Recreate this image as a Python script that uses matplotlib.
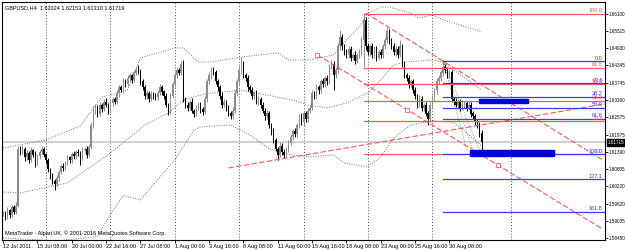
import numpy as np
import matplotlib
matplotlib.use("Agg")
import matplotlib.pyplot as plt
import matplotlib.transforms as mtransforms
from matplotlib.patches import Rectangle

plt.rcParams["font.family"] = ["Liberation Sans", "DejaVu Sans"]

# H4 bars, bar index 0 = Mon 18 Jul 2011 00:00, first visible bar is index -20
first_bar = -20
close_pips = [
    15930, 15915, 15940, 15925, 15950, 15935, 15955,
    16150,
    16140, 16150, 16120, 16135, 16110, 16145, 16130, 16100, 16125, 16140, 16150, 16130,
    16110, 16080, 16060, 16040, 16030, 16050,
    16070, 16090, 16085, 16100, 16120, 16110, 16130, 16125, 16140, 16135, 16120, 16145, 16150, 16130, 16155,
    16231, 16280,
    16290, 16270, 16300, 16285, 16310, 16300, 16280, 16305, 16320, 16310, 16340, 16360, 16350, 16380,
    16370, 16390, 16400, 16385, 16410, 16420, 16415, 16380, 16360,
    16330, 16340, 16320, 16335, 16330, 16325, 16340,
    16360, 16345, 16330, 16300, 16275,
    16330, 16370, 16400, 16420, 16410, 16440,
    16320,
    16300, 16290, 16310, 16280, 16270, 16290, 16300, 16285, 16275,
    16320, 16380, 16400, 16420, 16410,
    16380, 16360, 16330, 16300, 16310, 16290, 16270, 16260, 16280,
    16340, 16380, 16420, 16440, 16400, 16390, 16360,
    16350, 16330, 16340, 16310, 16320, 16300,
    16280, 16260, 16270, 16230, 16210, 16180, 16150, 16130,
    16160, 16140, 16130, 16150, 16170,
    16190, 16210, 16200, 16230,
    16260, 16240, 16270, 16250, 16280, 16290,
    16340, 16330, 16360, 16350, 16380, 16370, 16390, 16380,
    16430, 16440, 16400,
    16420, 16500, 16530,
    16500, 16480, 16470, 16490, 16460, 16470, 16450, 16470,
    16480, 16520, 16590, 16500,
    16480, 16500, 16470, 16490, 16460, 16480, 16470, 16500, 16520,
    16550,
    16520, 16500, 16480, 16490, 16470, 16500,
    16440, 16400, 16390, 16370, 16380, 16350,
    16330, 16300, 16320, 16290, 16300, 16270, 16250,
    16300, 16320, 16350, 16380,
    16390, 16410, 16430, 16420, 16400, 16410,
    16320, 16310,
    16300, 16310, 16290, 16300, 16305, 16290, 16300,
    16270, 16260, 16240, 16230, 16202,
    16172,
]
up_wick = [
    8, 6, 10, 5, 8, 7, 12,
    10,
    8, 12, 6, 10, 7, 9, 5, 12, 8, 6, 10, 7,
    6, 8, 5, 7, 6, 10,
    8, 6, 10, 7, 9, 5, 8, 12, 6, 9, 7, 10, 6, 8, 12,
    10, 15,
    12, 8, 10, 6, 9, 12, 7, 10, 8, 6, 12, 9, 7, 10, 8, 12, 9, 6, 10, 8, 15, 7, 9,
    8, 10, 6, 12, 7, 9, 10,
    12, 8, 6, 9, 7,
    10, 8, 12, 9, 7, 10,
    12,
    8, 10, 7, 12, 6, 9, 8, 10, 7,
    10, 8, 12, 9, 8,
    10, 7, 9, 12, 8, 6, 10, 8, 12,
    10, 8, 12, 23, 9, 7, 10,
    8, 12, 7, 10, 9, 6,
    10, 8, 12, 7, 9, 10, 8, 6,
    12, 8, 10, 7, 9,
    10, 8, 12, 9,
    8, 12, 10, 7, 9, 10,
    12, 8, 10, 9, 7, 12, 8, 10,
    10, 13, 8,
    10, 12, 25,
    10, 8, 12, 9, 10, 7, 12, 8,
    10, 12, 23, 10,
    12, 8, 10, 9, 12, 7, 10, 8, 12,
    16,
    10, 8, 12, 9, 10, 21,
    8, 10, 7, 12, 9, 8,
    10, 8, 12, 9, 7, 10, 8,
    10, 12, 8, 10,
    12, 9, 18, 10, 8, 9,
    10, 8,
    12, 8, 10, 15, 9, 7, 12,
    10, 8, 9, 12, 10,
    13,
]
dn_wick = [
    10, 8, 6, 12, 7, 9, 8,
    5,
    10, 7, 12, 8, 9, 6, 10, 12, 7, 9, 8, 10,
    8, 10, 12, 9, 20, 8,
    10, 8, 12, 9, 7, 10, 8, 12, 9, 10, 25, 8, 10, 12, 9,
    6, 10,
    10, 12, 8, 10, 7, 9, 12, 8, 10, 9, 7, 12, 8, 10, 9, 7, 12, 10, 8, 9, 10, 12, 8,
    12, 9, 10, 8, 12, 10, 9,
    8, 10, 12, 9, 10,
    6, 8, 10, 7, 9, 8,
    10,
    12, 10, 9, 8, 12, 10, 9, 12, 10,
    8, 10, 9, 12, 8,
    10, 12, 9, 10, 8, 12, 10, 9, 8,
    8, 10, 9, 12, 10, 8, 12,
    10, 9, 12, 8, 10, 12,
    9, 12, 10, 8, 12, 10, 9, 19,
    10, 12, 12, 9, 10,
    8, 10, 9, 12,
    10, 9, 12, 8, 10, 9,
    8, 10, 9, 12, 10, 8, 9, 12,
    10, 9, 50,
    8, 10, 12,
    12, 10, 9, 12, 10, 8, 12, 9,
    10, 12, 90, 12,
    10, 12, 9, 10, 12, 8, 10, 12, 9,
    10,
    12, 10, 9, 12, 10, 8,
    12, 10, 9, 12, 10, 9,
    12, 10, 9, 12, 10, 9, 19,
    8, 10, 9, 12,
    10, 9, 12, 10, 8, 10,
    12, 10,
    9, 12, 10, 8, 12, 10, 9,
    12, 10, 9, 10, 12,
    41,
]

# Bollinger bands (bar index, pips)
bb_up_x = [-20, 0, 16, 26, 30, 38, 44, 52, 60, 64, 71, 77, 91, 108, 113, 123, 134, 140, 146, 150, 156, 160, 170, 174, 180, 185, 193, 203]
bb_up_y = [16152, 16180, 16228, 16327, 16333, 16350, 16460, 16477, 16494, 16494, 16446, 16446, 16463, 16477, 16453, 16453, 16470, 16521, 16566, 16613, 16634, 16634, 16613, 16596, 16607, 16590, 16572, 16549]
bb_mid_x = [-20, -12, 10, 30, 46, 57, 64, 72, 77, 91, 103, 115, 122, 131, 140, 150, 156, 162, 168, 180, 185, 203]
bb_mid_y = [16002, 15999, 16033, 16135, 16231, 16272, 16316, 16333, 16340, 16350, 16333, 16316, 16299, 16289, 16306, 16340, 16385, 16436, 16446, 16453, 16446, 16350]
bb_lo_x = [-20, 5, 24, 30, 36, 44, 60, 69, 72, 86, 95, 104, 114, 123, 134, 139, 150, 156, 162, 170, 180, 190, 203]
bb_lo_y = [15845, 15835, 15850, 15925, 15990, 15975, 16112, 16214, 16224, 16231, 16197, 16150, 16129, 16122, 16129, 16101, 16088, 16122, 16186, 16231, 16245, 16240, 16160]

# grey dotted fan from the 25 Aug high towards the last lows (bar, pips)
fan_origin = (185.1, 16453)
fan_ends = [(196.3, 16139), (199.5, 16128), (203.3, 16122)]

# Fibonacci objects
red_fib_levels = [0.0, 23.6, 38.2, 50.0, 61.8, 100.0]
red_fib_hi, red_fib_lo, red_fib_start = 16610, 16131, 148
blue_fib_levels = [0.0, 23.6, 38.2, 50.0, 61.8, 100.0, 127.1, 161.8]
blue_fib_hi, blue_fib_lo, blue_fib_start = 16448, 16131, 185

# red trendlines: (bar, pips) anchor pairs, extended to the right edge
trend_a = [(149, 16613), (259, 16113)]
trend_b = [(126.5, 16470), (259, 15877)]
trend_c = [(85, 16084), (260.5, 16303)]
trend_marks = [(126.5, 16470), (168.4, 16283), (210.7, 16094)]

# blue rectangles: (bar0, bar1, pips_lo, pips_hi)
rects = [(201.9, 224.7, 16306, 16320), (197.7, 236.7, 16125, 16146)]

separators = [0, 30, 60, 90, 120, 150, 180, 216.7]
xtick_pos = [-20, -4, 12, 28, 44, 60, 76, 92, 108, 124, 140, 156, 172, 188]
xtick_lab = ["12 Jul 2011", "15 Jul 08:00", "20 Jul 00:00", "22 Jul 16:00", "27 Jul 08:00",
             "1 Aug 00:00", "3 Aug 16:00", "8 Aug 08:00", "11 Aug 00:00", "15 Aug 16:00",
             "18 Aug 08:00", "23 Aug 00:00", "25 Aug 16:00", "30 Aug 08:00"]
ytick_vals = [1.66100, 1.65515, 1.64930, 1.64345, 1.63745, 1.63160, 1.62575,
              1.61975, 1.61390, 1.60805, 1.60220, 1.59620, 1.59035, 1.58450]
bid = 1.61715
header = "GBPUSD,H4  1.62024 1.62153 1.61310 1.61719"
copyright_txt = "MetaTrader - Alpari UK, \u00a9 2001-2016 MetaQuotes Software Corp."

RED = "#ff5a5a"
BLUE = "#3a3aff"
FS = 4.0
FS_Y = 3.3

# ---------------------------------------------------------------
closes = np.array(close_pips) / 1e4
idx = np.arange(first_bar, first_bar + len(closes))
opens = np.r_[closes[0], closes[:-1]]  # H4 bar opens at previous close
highs = np.maximum(opens, closes) + np.array(up_wick) / 1e4
lows = np.minimum(opens, closes) - np.array(dn_wick) / 1e4

fig = plt.figure(figsize=(6.25, 2.5), dpi=100)
ax = fig.add_axes([2 / 625, 10 / 250, 603 / 625, 238 / 250])
ax.set_xlim(-20.5, 260.5)
ax.set_ylim(1.58380, 1.66510)

for x in separators:
    ax.axvline(x, color="#505050", ls=(0, (1, 2)), lw=0.7, zorder=1)

ax.axhline(bid, color="#c8c8c8", lw=1.2, zorder=1)

# Bollinger bands
for bx, by in [(bb_up_x, bb_up_y), (bb_mid_x, bb_mid_y), (bb_lo_x, bb_lo_y)]:
    ax.plot(bx, np.array(by) / 1e4, color="#707070", ls=(0, (1, 1.5)), lw=0.7, zorder=2)

for ex, ey in fan_ends:
    ax.plot([fan_origin[0], ex], [fan_origin[1] / 1e4, ey / 1e4], color="#808080",
            ls=(0, (1, 1.5)), lw=0.6, zorder=2)

# candles
bull = closes >= opens
cols = np.where(bull, "#8c8c8c", "#000000")
ax.vlines(idx, lows, highs, colors=cols, lw=0.7, zorder=3)
ax.bar(idx, np.abs(closes - opens) + 0.00003, bottom=np.minimum(opens, closes),
       width=0.65, color=cols, zorder=3)

# fibonacci: red (high -> low)
span = (red_fib_hi - red_fib_lo) / 1e4
for lv in red_fib_levels:
    p = red_fib_lo / 1e4 + lv / 100 * span
    ax.plot([red_fib_start, 260.5], [p, p], color=RED, lw=0.9, zorder=4)
    ax.text(259.5, p + 0.0002, f"{lv:.1f}", color=RED, fontsize=FS, ha="right", va="bottom", zorder=6)

# fibonacci: blue
span = (blue_fib_hi - blue_fib_lo) / 1e4
for lv in blue_fib_levels:
    p = blue_fib_hi / 1e4 - lv / 100 * span
    ax.plot([blue_fib_start, 260.5], [p, p], color=BLUE, lw=0.9, zorder=5)
    ax.text(259.5, p + 0.0002, f"{lv:.1f}", color=BLUE, fontsize=FS, ha="right", va="bottom", zorder=6)

for (x0, p0), (x1, p1) in [trend_a, trend_b, trend_c]:
    ax.plot([x0, x1], [p0 / 1e4, p1 / 1e4], color=RED, lw=0.8, ls=(0, (5, 2)), zorder=4)
for x, p in trend_marks:
    ax.plot(x, p / 1e4, "s", ms=2.5, mfc="white", mec=RED, mew=0.6, zorder=6)

for x0, x1, lo, hi in rects:
    ax.add_patch(Rectangle((x0, lo / 1e4), x1 - x0, (hi - lo) / 1e4, color="#0000dd", zorder=5))

# axes
ax.yaxis.tick_right()
ax.set_yticks(ytick_vals)
ax.set_yticklabels([f"{v:.5f}" for v in ytick_vals])
ax.set_xticks(xtick_pos)
ax.set_xticklabels(xtick_lab)
for lab in ax.get_xticklabels():
    lab.set_horizontalalignment("left")
ax.tick_params(axis="x", labelsize=FS, length=2, width=0.6, pad=1.0)
ax.tick_params(axis="y", labelsize=FS_Y, length=2, width=0.6, pad=0.6)
for s in ax.spines.values():
    s.set_linewidth(0.8)

trans = mtransforms.blended_transform_factory(ax.transAxes, ax.transData)
ax.text(1.004, bid, f"{bid:.5f}", transform=trans, fontsize=FS_Y, color="white", va="center", ha="left",
        bbox=dict(boxstyle="square,pad=0.15", fc="black", ec="black"), zorder=7, clip_on=False)

ax.text(0.005, 0.985, header, transform=ax.transAxes, fontsize=FS, va="top", ha="left")
ax.text(0.005, 0.015, copyright_txt, transform=ax.transAxes, fontsize=FS, va="bottom", ha="left")

fig.savefig("out.png", dpi=100)
